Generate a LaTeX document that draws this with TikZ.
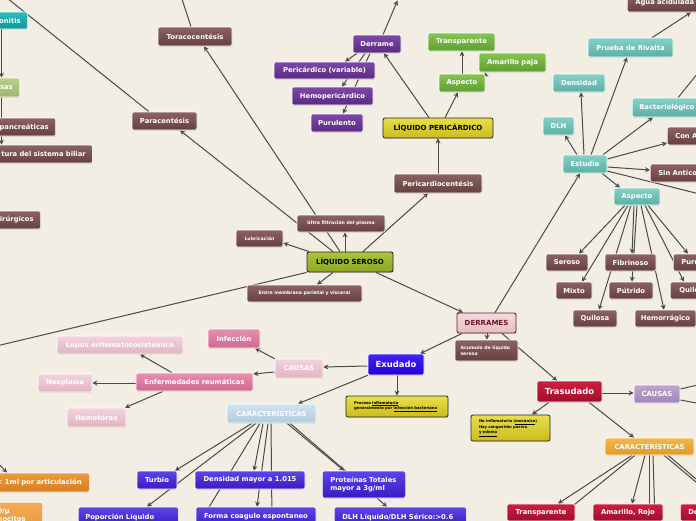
\documentclass[tikz,border=0pt]{standalone}
\usepackage{fontspec}
\setmainfont{DejaVu Sans}
\usetikzlibrary{arrows.meta,shadows}
\pgfdeclarelayer{bg}
\pgfsetlayers{bg,main}
\definecolor{bgC}{HTML}{F3EEE4}
\definecolor{lineC}{HTML}{4A4A4A}
\definecolor{brT}{HTML}{8C6262}\definecolor{brB}{HTML}{673F3F}
\definecolor{puT}{HTML}{7E48A8}\definecolor{puB}{HTML}{5A2A80}
\definecolor{grT}{HTML}{86C552}\definecolor{grB}{HTML}{5E9E30}
\definecolor{tlT}{HTML}{88D0C6}\definecolor{tlB}{HTML}{5AAFA4}
\definecolor{tsT}{HTML}{2EBDBD}\definecolor{tsB}{HTML}{129494}
\definecolor{lgT}{HTML}{BACE8E}\definecolor{lgB}{HTML}{9DB56C}
\definecolor{yeT}{HTML}{E8DE4C}\definecolor{yeB}{HTML}{CBBC1E}
\definecolor{olT}{HTML}{ABC43C}\definecolor{olB}{HTML}{8EA724}
\definecolor{deT}{HTML}{F3DADE}\definecolor{deB}{HTML}{E4BCC4}\definecolor{deD}{HTML}{6E1526}
\definecolor{exT}{HTML}{4323F7}\definecolor{exB}{HTML}{2200CF}
\definecolor{bvT}{HTML}{5C45E8}\definecolor{bvB}{HTML}{3A1BC2}
\definecolor{crT}{HTML}{CC2042}\definecolor{crB}{HTML}{A30C2A}
\definecolor{lpT}{HTML}{BEA7D1}\definecolor{lpB}{HTML}{9F85B7}
\definecolor{orT}{HTML}{F3B84E}\definecolor{orB}{HTML}{E29824}
\definecolor{psT}{HTML}{E890B0}\definecolor{psB}{HTML}{CF6690}
\definecolor{plT}{HTML}{F2D3DC}\definecolor{plB}{HTML}{E2B3C2}
\definecolor{lbT}{HTML}{D2E3EE}\definecolor{lbB}{HTML}{AFCBDD}
\definecolor{oaT}{HTML}{EE9C3E}\definecolor{oaB}{HTML}{D67E1E}
\definecolor{obT}{HTML}{F4AC55}\definecolor{obB}{HTML}{E5913A}
\newcommand\myfN{\fontsize{6.8pt}{8pt}\selectfont\bfseries}
\newcommand\myfS{\fontsize{4.6pt}{5.6pt}\selectfont\bfseries}
\newcommand\myfT{\fontsize{3.8pt}{5.7pt}\selectfont\bfseries}
\newcommand\myfB{\fontsize{8.4pt}{10pt}\selectfont\bfseries}
\newcommand\myfL{\fontsize{7pt}{8pt}\selectfont\bfseries}
\tikzset{
  box/.style={rounded corners=2pt, draw=white, line width=0.6pt, text=white, font=\myfN, inner sep=0pt, align=center,
    drop shadow={shadow xshift=0.4pt, shadow yshift=-0.9pt, opacity=0.22}},
  sz/.style 2 args={minimum width=#1pt, minimum height=#2pt},
  cutl/.style={anchor=east, text width=#1, align=right, inner xsep=7pt},
  cutr/.style={anchor=west, text width=#1, align=left},
  brn/.style={box, top color=brT, bottom color=brB},
  purp/.style={box, top color=puT, bottom color=puB},
  grn/.style={box, top color=grT, bottom color=grB},
  tealL/.style={box, top color=tlT, bottom color=tlB},
  tealS/.style={box, top color=tsT, bottom color=tsB},
  lgrn/.style={box, top color=lgT, bottom color=lgB},
  yel/.style={box, top color=yeT, bottom color=yeB, draw=black!85, line width=0.8pt, text=black, font=\myfT},
  olive/.style={box, top color=olT, bottom color=olB, draw=black!85, line width=0.9pt, text=black, font=\myfL},
  derrs/.style={box, top color=deT, bottom color=deB, draw=deD, line width=0.9pt, text=deD, font=\myfL},
  exud/.style={box, top color=exT, bottom color=exB, font=\myfB},
  bluev/.style={box, top color=bvT, bottom color=bvB},
  crim/.style={box, top color=crT, bottom color=crB},
  lpur/.style={box, top color=lpT, bottom color=lpB},
  orng/.style={box, top color=orT, bottom color=orB},
  pinkS/.style={box, top color=psT, bottom color=psB},
  pinkL/.style={box, top color=plT, bottom color=plB},
  lblue/.style={box, top color=lbT, bottom color=lbB},
  orA/.style={box, top color=oaT, bottom color=oaB},
  orB/.style={box, top color=obT, bottom color=obB},
  ln/.style={draw=lineC, line width=1pt},
  con/.style={ln, -{Stealth[length=5pt,width=5pt]}},
}
\begin{document}
\begin{tikzpicture}[x=1pt,y=-1pt]
\useasboundingbox (0,0) rectangle (696,520);
% ---- left column
\node[tealS, cutl=50pt, minimum height=17pt] (peri) at (28,20.5) {onitis};
\node[lgrn, cutl=40pt, minimum height=19pt] (usas) at (20,87.5) {usas};
\node[brn, cutl=60pt, minimum height=18pt] (pan) at (56,127) {pancreáticas};
\node[brn, cutl=100pt, minimum height=18pt] (tura) at (93,154) {tura del sistema biliar};
\node[brn, cutl=50pt, minimum height=18pt] (quir) at (41,220) {irúrgicos};
\node[brn, sz={65}{18}] (para) at (164.5,121) {Paracentésis};
\node[brn, sz={74}{19}] (tor) at (195,36.5) {Toracocentésis};
% ---- pericardial
\node[purp, sz={48}{18}] (der) at (377,44) {Derrame};
\node[purp, sz={101}{17}] (pv) at (324.5,70.5) {Pericárdico (variable)};
\node[purp, sz={81}{18}] (hp) at (332.5,96) {Hemopericárdico};
\node[purp, sz={52}{18}] (pur) at (337,123) {Purulento};
\node[yel, font=\myfL, sz={110}{20}] (lp) at (438,128) {LÍQUIDO PERICÁRDICO};
\node[grn, sz={46}{18}] (asg) at (462,83) {Aspecto};
\node[grn, sz={67}{18}] (trg) at (461.5,42) {Transparente};
\node[grn, sz={67}{19}] (amp) at (512.5,62.5) {Amarillo paja};
\node[brn, sz={88}{19}] (pc) at (438,183.5) {Pericardiocentésis};
% ---- study
\node[tealL, sz={44}{18}] (est) at (585,164) {Estudio};
\node[tealL, sz={31}{18}] (dlh) at (558.5,126) {DLH};
\node[tealL, sz={52}{18}] (den) at (579,83) {Densidad};
\node[tealL, sz={85}{19}] (pr) at (630.5,47.5) {Prueba de Rivalta};
\node[brn, cutr=62pt, inner xsep=8pt, minimum height=18pt] (agua) at (627,3) {Agua acidulada};
\node[tealL, cutr=62pt, inner xsep=7pt, minimum height=19pt] (bac) at (632,107.5) {Bacteriológico};
\node[brn, cutr=40pt, inner xsep=8pt, minimum height=18pt] (cona) at (667,136) {Con A};
\node[brn, cutr=50pt, inner xsep=8pt, minimum height=18pt] (sin) at (650,173) {Sin Antico};
\node[tealL, sz={46}{17}] (ast) at (637,196.5) {Aspecto};
\node[brn, sz={42}{17}] (ser) at (567,262.5) {Seroso};
\node[brn, sz={51}{17}] (fib) at (630.5,262.5) {Fibrinoso};
\node[brn, cutr=30pt, inner xsep=8pt, minimum height=17pt] (pru) at (673,262.5) {Puru};
\node[brn, sz={36}{17}] (mix) at (574,290.5) {Mixto};
\node[brn, sz={44}{17}] (put) at (631,290.5) {Pútrido};
\node[brn, cutr=30pt, inner xsep=9pt, minimum height=17pt] (qlo) at (670,290.5) {Quilo};
\node[brn, sz={44}{17}] (qsa) at (595,318.5) {Quilosa};
\node[brn, sz={61}{17}] (hem) at (665.5,318.5) {Hemorrágico};
% ---- serous
\node[olive, sz={86}{20}] (ls) at (350,262) {LÍQUIDO SEROSO};
\node[brn, font=\myfS, sz={88}{17}] (ultra) at (341,223.5) {Ultra filtración del plasma};
\node[brn, font=\myfS, sz={47}{17}] (lub) at (259.5,238.5) {Lubricación};
\node[brn, font=\myfS, sz={115}{17}] (entre) at (304.5,293.5) {Entre membrana parietal y visceral};
\node[derrs, sz={59}{20}] (derr) at (486.5,323) {DERRAMES};
\node[brn, font=\myfS, sz={63}{21}, text width=52pt, inner xsep=5.5pt, align=left] (acu) at (486.5,350.5) {Acumulo de líquido\\ seroso};
% ---- exudado
\node[exud, sz={56}{21}] (exu) at (396,364.5) {Exudado};
\node[yel, sz={102}{21}, text width=86pt, align=left] (exn) at (397,406.5) {Proceso \underline{inflamatorio}\\generalmente por \underline{infección bacteriana}};
\node[pinkL, sz={48}{19}] (cap) at (299,368.5) {CAUSAS};
\node[pinkS, sz={52}{19}] (inf) at (234,338.5) {Infección};
\node[pinkS, sz={117}{18}] (enf) at (194.5,382) {Enfermedades reumáticas};
\node[pinkL, sz={126}{18}] (lup) at (120,345) {Lupus eritematososistémico};
\node[pinkL, sz={54}{18}] (neo) at (65,383) {Neoplasia};
\node[pinkL, sz={59}{19}] (hmt) at (96.5,417.5) {Hemotórax};
\node[lblue, sz={89}{19}] (cab) at (271.5,413.5) {CARACTERÍSTICAS};
\node[bluev, sz={40}{18}] (tur) at (157,480) {Turbio};
\node[bluev, sz={110}{18}] (dens) at (250,480) {Densidad mayor a 1.015};
\node[bluev, anchor=west, text width=67pt, inner xsep=8pt, minimum height=27pt, align=left] (pro) at (322,484.5) {Proteínas Totales\\mayor a 3g/ml};
\node[bluev, anchor=west, text width=86pt, inner xsep=7pt, minimum height=20pt, align=left] (pop) at (78,517) {Poporción Líquido};
\node[bluev, sz={120}{20}] (forma) at (256,517) {Forma coagulo espontaneo};
\node[bluev, anchor=west, text width=116pt, inner xsep=8pt, minimum height=20pt, align=left] (dlhl) at (334,517) {DLH Líquido/DLH Sérico:>0.6};
\node[orA, cutl=100pt, inner xsep=8pt, minimum height=19pt] (art) at (90,482.5) {< 1ml por articulación};
\node[orB, anchor=north east, text width=38pt, inner xsep=7pt, inner ysep=6pt, align=left] (leu) at (43,502) {0/μ\\nocitos\\ \phantom{x}};
% ---- trasudado
\node[crim, font=\myfB, sz={65}{21}] (tra) at (569.5,391.5) {Trasudado};
\node[yel, sz={79}{26}, text width=63pt, align=left] (trn) at (510.5,428) {No inflamatorio (\underline{mecánico})\\Hay congestión pasiva\\\underline{y edema}};
\node[lpur, sz={46}{18}] (cau2) at (657,394) {CAUSAS};
\node[orng, sz={89}{17}] (car2) at (649.5,446.5) {CARACTERÍSTICAS};
\node[crim, sz={68}{17}] (trc) at (541,512.5) {Transparente};
\node[crim, sz={70}{17}] (amr) at (628,512.5) {Amarillo, Rojo};
\node[crim, cutr=30pt, inner xsep=8pt, minimum height=17pt] (de) at (680,512.5) {De};
% ---- free ends
\coordinate (oA) at (-3,-10);
\coordinate (oB) at (179,-10);
\coordinate (oC) at (397.5,0.5);
\coordinate (oD) at (702,68);
\coordinate (oE) at (702,194.6);
\coordinate (oF) at (-10,347.5);
\coordinate (oG) at (702,384);
\coordinate (oH) at (702,404);
\coordinate (oI) at (702,487);
\coordinate (oJ) at (702,484);
\coordinate (oK) at (-6,459);
\coordinate (hA) at (200,522);
\coordinate (hB) at (272,522);
\coordinate (hC) at (553,522);
\coordinate (hD) at (649,522);
\coordinate (hE) at (655,522);
\begin{pgfonlayer}{bg}
\fill[bgC] (-10,-10) rectangle (710,530);
\draw[con] (peri.south -| 1.5,0) -- (usas.north -| 1.5,0);
\draw[con] (usas.south -| 1.5,0) -- (tura.north -| 1.5,0);
\draw[ln] (para.north -| 149,0) -- (oA);
\draw[con] (ls.north -| 333,0) -- (para.south -| 180,0);
\draw[con] (ls.north -| 340,0) -- (tor.south -| 204,0);
\draw[ln] (tor.north -| 191,0) -- (oB);
\draw[con] (ls.north -| 345,0) -- (ultra.south -| 345,0);
\draw[con] (ls.north -| 309,0) -- (lub.east |- 0,243);
\draw[con] (ls.south -| 333,0) -- (entre.north -| 317,0);
\draw[con] (ls.north -| 363,0) -- (pc.south -| 428,0);
\draw[con] (pc.north -| 438,0) -- (lp.south -| 438,0);
\draw[con] (lp.north -| 429,0) -- (der.south -| 384,0);
\draw[con] (lp.north -| 445,0) -- (asg.south -| 458,0);
\draw[con] (asg.north -| 462,0) -- (trg.south -| 462,0);
\draw[con] (asg.north east) -- (amp.south -| 485,0);
\draw[con] (der.north -| 383,0) -- (oC);
\draw[con] (der.south -| 357,0) -- (pv.north -| 345,0);
\draw[con] (der.south -| 365,0) -- (hp.north -| 342,0);
\draw[con] (der.south -| 370,0) -- (pur.north -| 343,0);
\draw[con] (derr.north -| 495,0) -- (est.south -| 580,0);
\draw[con] (est.north -| 577,0) -- (dlh.south -| 565,0);
\draw[con] (est.north -| 584,0) -- (den.south -| 581,0);
\draw[con] (est.north -| 591,0) -- (pr.south -| 627,0);
\draw[con] (pr.north -| 652,0) -- (agua.south -| 691,0);
\draw[con] (est.north -| 603,0) -- (bac.south -| 653,0);
\draw[ln] (bac.north -| 678,0) -- (oD);
\draw[con] (est.east |- 0,159) -- (cona.west |- 0,143);
\draw[con] (est.east |- 0,167) -- (sin.west |- 0,170);
\draw[ln] (est.east |- 0,171) -- (oE);
\draw[con] (est.south -| 602,0) -- (ast.north -| 620,0);
\draw[con] (ast.south -| 625,0) -- (ser.north -| 579,0);
\draw[con] (ast.south -| 628,0) -- (mix.north -| 582,0);
\draw[con] (ast.south -| 631,0) -- (qsa.north -| 599,0);
\draw[con] (ast.south -| 634,0) -- (fib.north -| 632,0);
\draw[con] (ast.south -| 637,0) -- (put.north -| 632,0);
\draw[con] (ast.south -| 641,0) -- (hem.north -| 664,0);
\draw[con] (ast.south -| 645,0) -- (qlo.north -| 684,0);
\draw[con] (ast.south -| 648,0) -- (pru.north -| 688,0);
\draw[con] (ls.south -| 376,0) -- (derr.north -| 463,0);
\draw[ln] (ls.south west) -- (oF);
\draw[con] (derr.south -| 487,0) -- (acu.north -| 487,0);
\draw[con] (derr.south -| 462,0) -- (exu.north -| 420,0);
\draw[con] (derr.south -| 502,0) -- (tra.north -| 557,0);
\draw[con] (exu.south -| 397,0) -- (exn.north -| 397,0);
\draw[con] (exu.west |- 0,366) -- (cap.east |- 0,367);
\draw[con] (exu.south west) -- (cab.north -| 298,0);
\draw[con] (cap.north west) -- (inf.south -| 255,0);
\draw[con] (cap.west |- 0,372) -- (enf.east |- 0,374);
\draw[con] (enf.north -| 172,0) -- (lup.south -| 140,0);
\draw[con] (enf.west |- 0,383) -- (neo.east |- 0,383);
\draw[con] (enf.south -| 163,0) -- (hmt.north -| 125,0);
\draw[con] (cab.south -| 252,0) -- (tur.north -| 175,0);
\draw[con] (cab.south -| 256,0) -- (pop.north -| 147,0);
\draw[ln] (cab.south -| 260,0) -- (hA);
\draw[con] (cab.south -| 263,0) -- (dens.north -| 254,0);
\draw[con] (cab.south -| 268,0) -- (forma.north -| 257,0);
\draw[ln] (cab.south -| 271,0) -- (hB);
\draw[con] (cab.south -| 287,0) -- (pro.north -| 344,0);
\draw[con] (cab.south -| 290,0) -- (dlhl.north -| 387,0);
\draw[con] (oK) -- (art.north -| 7,0);
\draw[con] (tra.south -| 549,0) -- (trn.north -| 532,0);
\draw[con] (tra.east |- 0,393) -- (cau2.west |- 0,393);
\draw[ln] (cau2.east |- 0,389) -- (oG);
\draw[ln] (cau2.east |- 0,400) -- (oH);
\draw[con] (tra.south -| 589,0) -- (car2.north -| 634,0);
\draw[con] (car2.south -| 632,0) -- (trc.north -| 558,0);
\draw[ln] (car2.south -| 635,0) -- (hC);
\draw[con] (car2.south -| 645,0) -- (amr.north -| 632,0);
\draw[ln] (car2.south -| 649,0) -- (hD);
\draw[ln] (car2.south -| 653,0) -- (hE);
\draw[ln] (car2.south -| 664,0) -- (oI);
\draw[ln] (car2.south -| 668,0) -- (oJ);
\end{pgfonlayer}
\end{tikzpicture}
\end{document}
